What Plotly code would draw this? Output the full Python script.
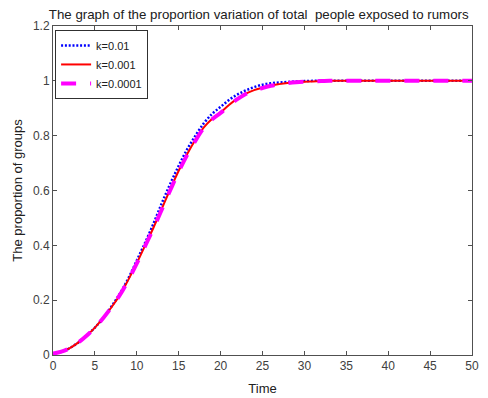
import plotly.graph_objects as go

time = list(range(0, 51))

k001 = [0.005, 0.012, 0.025, 0.045, 0.07, 0.10, 0.135, 0.178, 0.225, 0.28, 0.345,
        0.41, 0.48, 0.555, 0.625, 0.69, 0.75, 0.80, 0.845, 0.88, 0.905,
        0.93, 0.95, 0.965, 0.977, 0.986, 0.991, 0.994, 0.996, 0.998, 0.999] + [1.0] * 20

k0001 = [0.005, 0.012, 0.025, 0.045, 0.07, 0.10, 0.135, 0.175, 0.22, 0.275, 0.335,
         0.40, 0.465, 0.535, 0.605, 0.672, 0.732, 0.785, 0.83, 0.862, 0.885,
         0.912, 0.935, 0.953, 0.966, 0.975, 0.983, 0.988, 0.992, 0.995, 0.997,
         0.998, 0.999] + [1.0] * 18

k00001 = [0.005, 0.012, 0.025, 0.045, 0.07, 0.10, 0.135, 0.175, 0.22, 0.274, 0.334,
          0.398, 0.463, 0.532, 0.602, 0.669, 0.729, 0.782, 0.828, 0.86, 0.883,
          0.91, 0.933, 0.952, 0.965, 0.974, 0.982, 0.988, 0.992, 0.995, 0.997,
          0.998, 0.999] + [1.0] * 18

names = ["k=0.01", "k=0.001", "k=0.0001"]

fig = go.Figure()
fig.add_trace(go.Scatter(x=time, y=k001, name=names[0], mode="lines",
                         line=dict(color="#0000ff", width=2.5, dash="2px,1.8px"), line_shape="spline"))
fig.add_trace(go.Scatter(x=time, y=k0001, name=names[1], mode="lines",
                         line=dict(color="#ff0000", width=2), line_shape="spline"))
fig.add_trace(go.Scatter(x=time, y=k00001, name=names[2], mode="lines",
                         line=dict(color="#ff00ff", width=4, dash="15px,14px"), line_shape="spline"))

axcol = "#505050"
fig.update_layout(
    width=480, height=390,
    margin=dict(l=45, r=16, t=18, b=43, autoexpand=False),
    paper_bgcolor="white", plot_bgcolor="white",
    font=dict(family="Liberation Sans, Arial, sans-serif", size=12, color="#404040"),
    title=dict(text="The graph of the proportion variation of total&nbsp; people exposed to rumors",
               x=0.085, xref="container", xanchor="left", y=0.985, yanchor="middle",
               font=dict(size=13.3, color="#202020")),
    showlegend=True,
    legend=dict(x=0.005, y=0.988, xanchor="left", yanchor="top",
                bgcolor="white", bordercolor="#303030", borderwidth=1,
                font=dict(size=11, color="#202020"), itemwidth=30,
                tracegroupgap=0),
)
fig.update_xaxes(range=[0, 50], tickmode="array", tickvals=list(range(0, 51, 5)),
                 ticks="inside", ticklen=4, tickcolor=axcol, showline=True, linecolor=axcol,
                 linewidth=1, mirror="ticks", showgrid=False, zeroline=False, automargin=False,
                 title=dict(text="Time", font=dict(size=13, color="#202020"), standoff=11))
fig.update_yaxes(range=[0, 1.2], tickmode="array", tickvals=[0, 0.2, 0.4, 0.6, 0.8, 1, 1.2],
                 ticktext=["0", "0.2", "0.4", "0.6", "0.8", "1", "1.2"],
                 ticks="inside", ticklen=4, tickcolor=axcol, showline=True, linecolor=axcol,
                 linewidth=1, mirror="ticks", showgrid=False, zeroline=False, automargin=False,
                 title=dict(text="The proportion of groups", font=dict(size=13, color="#202020"), standoff=7))

fig.write_html("out.html")
